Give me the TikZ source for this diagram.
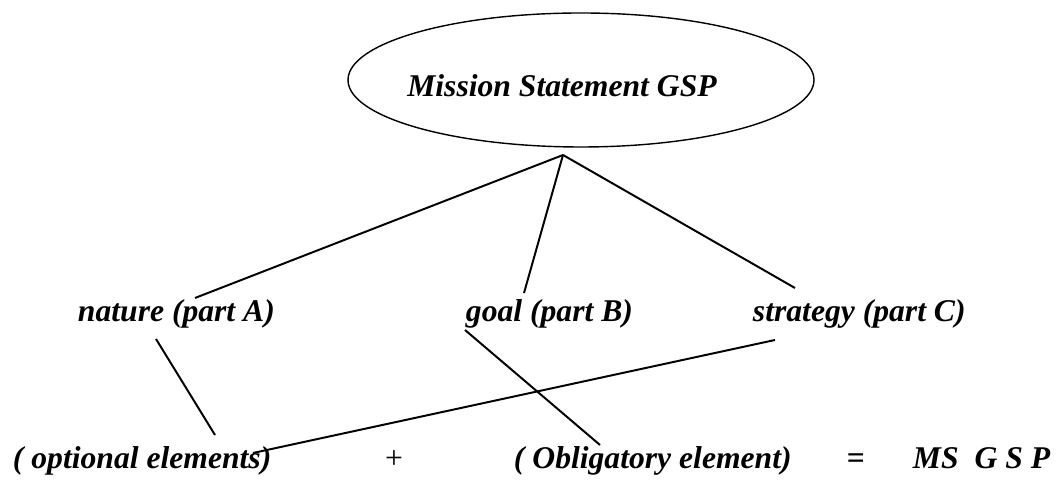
\documentclass[tikz,border=0pt]{standalone}
\usepackage{fontspec}
\setmainfont{Liberation Serif}
\begin{document}
\begin{tikzpicture}[line width=1.4pt,
		lbl/.style={inner sep=0pt, anchor=base west, font=\fontsize{22.5}{27}\selectfont\bfseries\itshape}]
			\useasboundingbox (0,0) rectangle (26.525,12.05);
			\draw[line width=1pt] (14.525,10.05) ellipse [x radius=5.825cm, y radius=1.675cm];
			\node[lbl, anchor=base] (ms) at (14.05,9.625) {Mission Statement GSP};
			\node[lbl] (na) at (1.925,4.0) {nature (part A)};
			\node[lbl] (go) at (11.625,4.0) {goal (part B)};
			\node[lbl] (st) at (18.8,4.0) {strategy (part C)};
			\node[lbl] (op) at (0.3,0.325) {( optional elements)};
			\node[lbl, anchor=base, font=\fontsize{22.5}{27}\selectfont] (pl) at (9.85,0.325) {+};
			\node[lbl] (ob) at (12.825,0.325) {( Obligatory element)};
			\node[lbl, anchor=base, font=\fontsize{22.5}{27}\selectfont\bfseries] (eq) at (21.4,0.325) {=};
			\node[lbl] (gsp) at (22.8,0.325) {MS\ \ G S P};
			\coordinate (top) at (14.075,8.175);
			\coordinate (a) at (4.875,4.6);
			\coordinate (b) at (13.1,4.725);
			\coordinate (c) at (19.875,4.85);
			\coordinate (a1) at (3.9,3.575);
			\coordinate (a2) at (5.375,1.175);
			\coordinate (b1) at (11.625,3.8);
			\coordinate (b2) at (15.0,0.925);
			\coordinate (c1) at (19.375,3.55);
			\coordinate (c2) at (6.325,0.725);
			\draw (top) -- (a);
			\draw (top) -- (b);
			\draw (top) -- (c);
			\draw (a1) -- (a2);
			\draw (b1) -- (b2);
			\draw (c1) -- (c2);
		\end{tikzpicture}
\end{document}
